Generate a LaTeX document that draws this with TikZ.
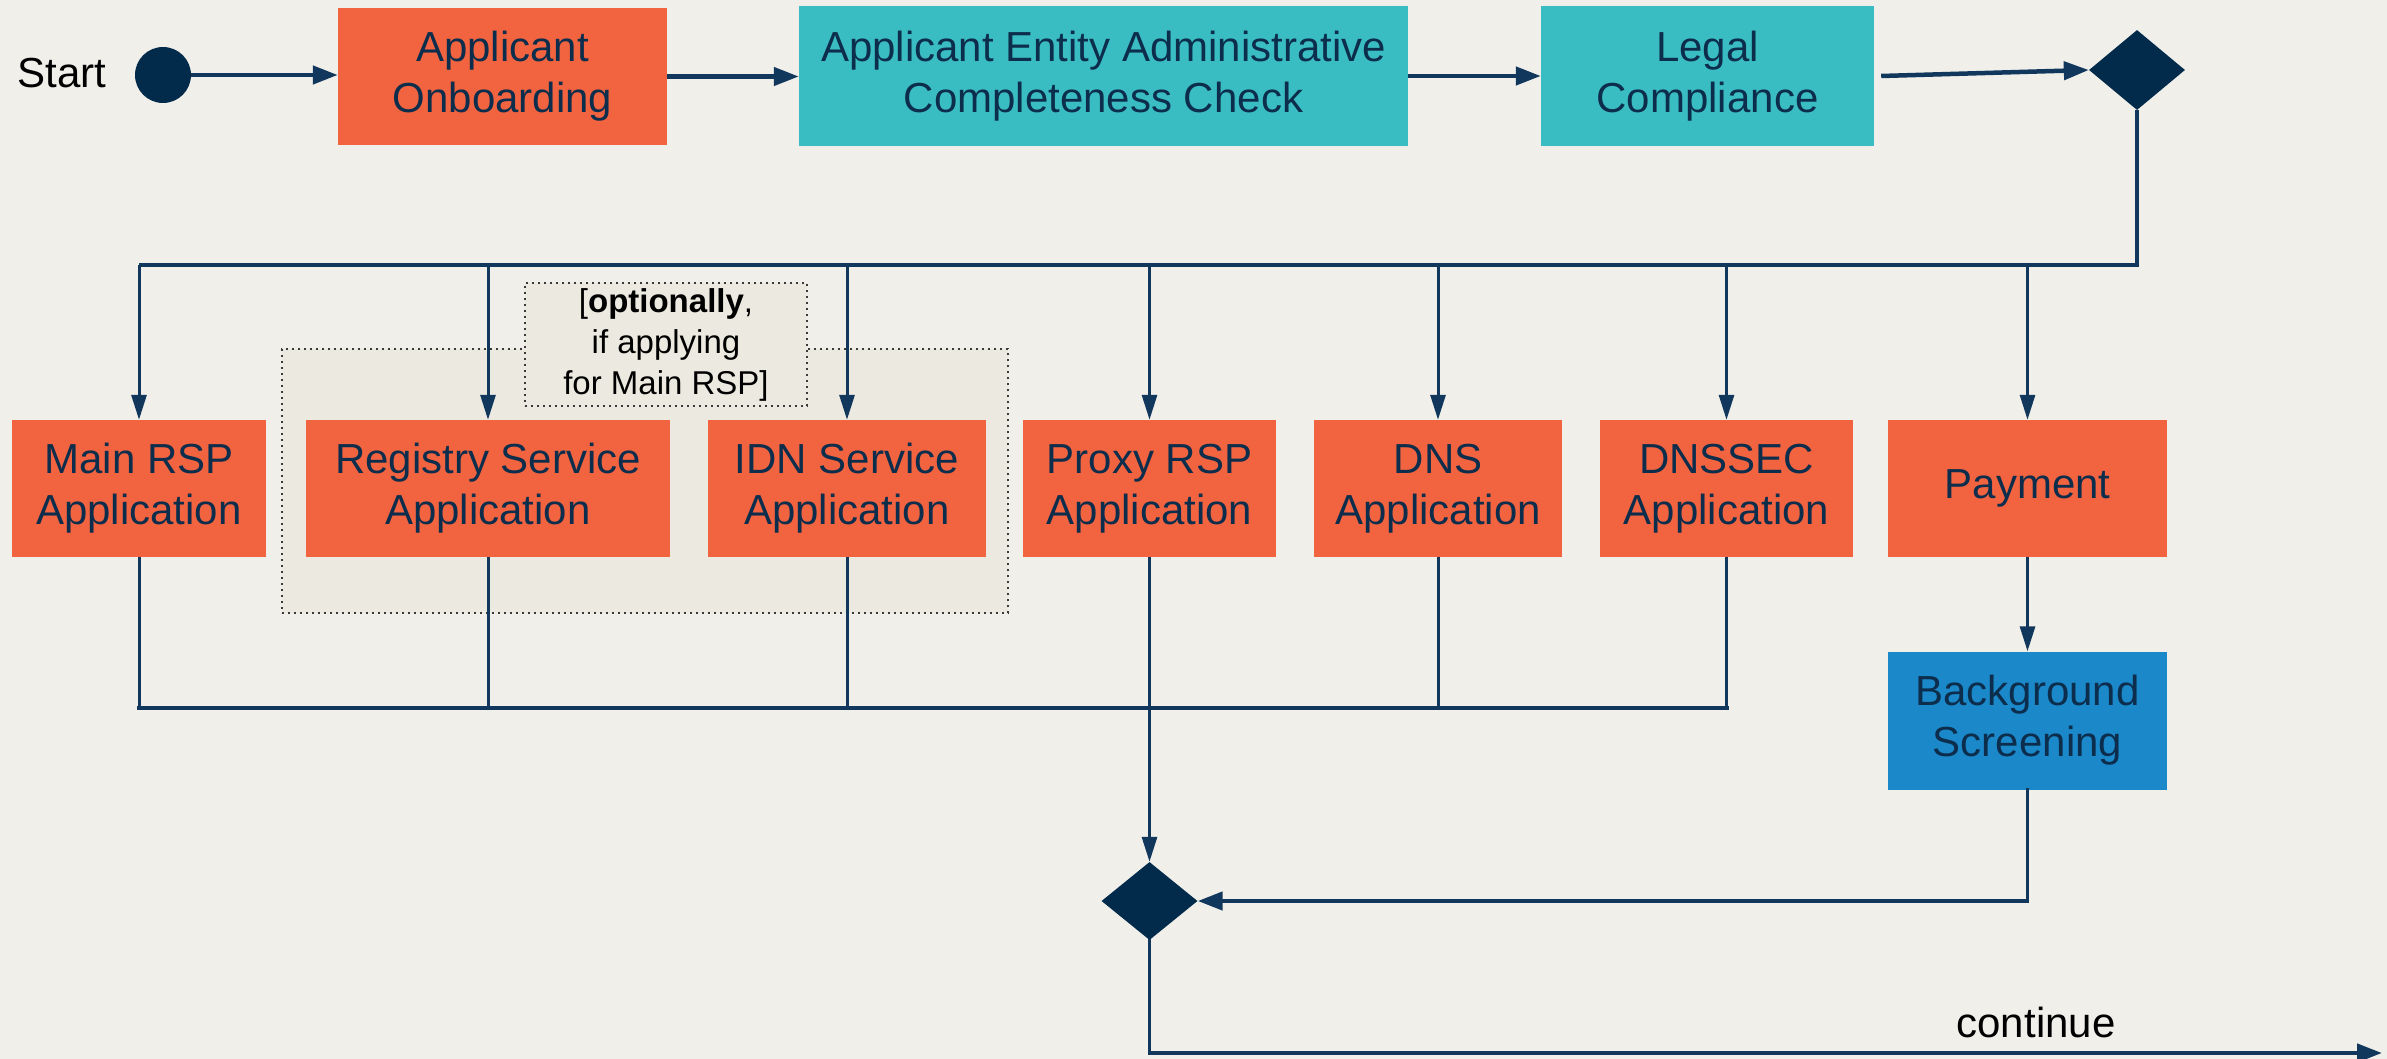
\documentclass[tikz,border=0pt]{standalone}
\usepackage{fontspec}
\setmainfont{Liberation Sans}
\usetikzlibrary{shapes.geometric,arrows.meta}
\definecolor{bgc}{HTML}{F0EFEA}
\definecolor{orgc}{HTML}{F26440}
\definecolor{tealc}{HTML}{3ABDC2}
\definecolor{bluec}{HTML}{1B88C9}
\definecolor{navy}{HTML}{12375C}
\definecolor{diamc}{HTML}{022A4A}
\definecolor{boxtext}{HTML}{0D2D4C}
\definecolor{grpfill}{HTML}{ECEAE0}
\definecolor{dotc}{HTML}{3A3A3A}
\tikzset{
  box/.style={rectangle, inner sep=0pt, align=center, text=boxtext, font=\fontsize{42}{51}\selectfont},
  obox/.style={box, fill=orgc},
  tbox/.style={box, fill=tealc},
  bbox/.style={box, fill=bluec},
  dia/.style={diamond, fill=diamc, inner sep=0pt, minimum width=96pt, minimum height=80pt},
  hline/.style={draw=navy, line width=4.5pt},
  vline/.style={draw=navy, line width=3pt},
  arrh/.style={-{Triangle[length=25pt,width=18pt]}},
  arrv/.style={-{Triangle[length=25pt,width=15pt]}},
  dotbox/.style={rectangle, draw=dotc, line width=2pt, dash pattern=on 2pt off 4pt, fill=grpfill, inner sep=0pt},
  plain/.style={font=\fontsize{42}{51}\selectfont, text=black, inner sep=0pt}
}
\begin{document}
\begin{tikzpicture}[x=1pt,y=-1pt]
\fill[bgc] (0,0) rectangle (2387,1059);
\useasboundingbox (0,0) rectangle (2387,1059);

% top row
\node[plain] (starttxt) at (62,73) {Start};
\node[circle, fill=diamc, minimum size=56pt, inner sep=0pt] (st) at (163,75) {};
\node[obox, minimum width=329pt, minimum height=137pt] (ao) at (502.5,76.5) {Applicant\\Onboarding};
\node[tbox, minimum width=609pt, minimum height=140pt] (ae) at (1103.5,76) {Applicant Entity Administrative\\Completeness Check};
\node[tbox, minimum width=333pt, minimum height=140pt] (lc) at (1707.5,76) {Legal\\Compliance};
\node[dia] (d1) at (2137,70) {};

\draw[hline, arrh] (st.east) -- (st.east -| ao.west);
\draw[hline, arrh] (ao.east) -- (ao.east -| ae.west);
\draw[hline, arrh] (ae.east) -- (ae.east -| lc.west);
\draw[hline, arrh] ([xshift=7pt]lc.east) -- (d1.west);

% group
\node[dotbox, minimum width=726pt, minimum height=264pt] (grp) at (645,481) {};
\node[dotbox, minimum width=282pt, minimum height=123pt, align=center, text=black,
      font=\fontsize{33}{41}\selectfont] (note) at (666,344.5)
      {[\textbf{optionally},\\if applying\\for Main RSP]};

% second row
\node[obox, minimum width=254pt, minimum height=137pt] (mrsp) at (139,488.5) {Main RSP\\Application};
\node[obox, minimum width=364pt, minimum height=137pt] (reg) at (488,488.5) {Registry Service\\Application};
\node[obox, minimum width=278pt, minimum height=137pt] (idn) at (847,488.5) {IDN Service\\Application};
\node[obox, minimum width=253pt, minimum height=137pt] (proxy) at (1149.5,488.5) {Proxy RSP\\Application};
\node[obox, minimum width=248pt, minimum height=137pt] (dns) at (1438,488.5) {DNS\\Application};
\node[obox, minimum width=253pt, minimum height=137pt] (dnssec) at (1726.5,488.5) {DNSSEC\\Application};
\node[obox, minimum width=279pt, minimum height=137pt] (pay) at (2027.5,488.5) {Payment};
\node[bbox, minimum width=279pt, minimum height=138pt] (bs) at (2027.5,720.5) {Background\\Screening};
\node[dia, minimum height=78pt] (d2) at (1149.5,901) {};

% upper bus
\coordinate (bus) at (0,265);
\draw[hline, line join=miter] (d1.south) |- (mrsp.north |- bus);
\foreach \n in {mrsp,reg,idn,proxy,dns,dnssec,pay}
  \draw[vline, arrv] (\n.north |- bus) -- (\n.north);

% lower bus
\coordinate (lowbus) at (0,708);
\draw[hline, line cap=rect] (mrsp.south |- lowbus) -- (dnssec.south |- lowbus);
\foreach \n in {mrsp,reg,idn,dns,dnssec}
  \draw[vline] (\n.south) -- (\n.south |- lowbus);
\draw[vline, arrv] (proxy.south) -- (d2.north);
\draw[vline, arrv] (pay.south) -- (bs.north);

\coordinate (bsc) at (bs.south |- d2.east);
\draw[vline, line cap=rect] (bs.south) -- (bsc);
\draw[hline, arrh] (bsc) -- (d2.east);

\coordinate (cend) at (2382,1053);
\coordinate (dcorner) at (d2.south |- cend);
\draw[vline, line cap=rect] (d2.south) -- (dcorner);
\draw[hline, arrh] (dcorner) -- (cend);
\node[plain] (cont) at (2036,1022) {continue};
\end{tikzpicture}
\end{document}
